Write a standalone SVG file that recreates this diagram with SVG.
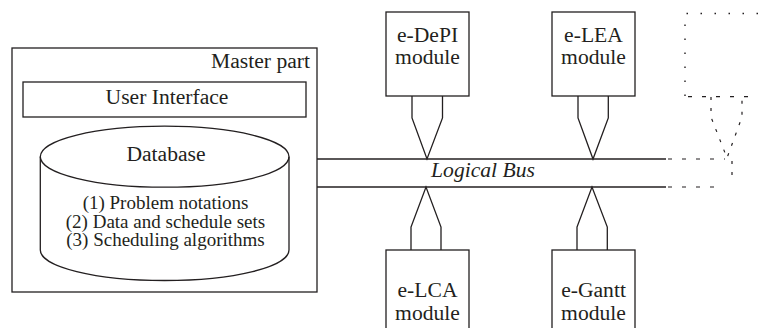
<svg xmlns="http://www.w3.org/2000/svg" width="761" height="328" viewBox="0 0 761 328">
<style>
.s{fill:none;stroke:#231f20;stroke-width:1.3}
.b{fill:#fff;stroke:#231f20;stroke-width:1.3}
.t{font-family:"Liberation Serif","Times New Roman",serif;font-size:21.6px;fill:#231f20;text-anchor:middle}
.sm{font-size:19px}
.d{fill:none;stroke:#231f20;stroke-width:1.2;stroke-dasharray:4 10}
.dot{fill:none;stroke:#231f20;stroke-width:1.4;stroke-dasharray:1.5 12.5}
</style>
<rect width="761" height="328" fill="#fff"/>
<g id="master">
<rect class="b" x="12" y="48" width="305" height="244"/>
<text class="t" x="310" y="68" style="text-anchor:end">Master part</text>
</g>
<g id="ui">
<rect class="b" x="23" y="82" width="283" height="35"/>
<text class="t" x="167" y="104">User Interface</text>
</g>
<g id="database">
<path class="b" d="M40.3,156.7 A124.3,30.5 0 0 1 289,156.7 V250 A124.3,30.5 0 0 1 40.3,250 Z"/>
<path class="s" d="M40.3,156.7 A124.3,30.5 0 0 0 289,156.7"/>
<text class="t" x="166" y="161">Database</text>
<text class="t sm" x="165.5" y="209">(1) Problem notations</text>
<text class="t sm" x="165.5" y="227.5">(2) Data and schedule sets</text>
<text class="t sm" x="165.5" y="246">(3) Scheduling algorithms</text>
</g>
<g id="bus">
<line class="s" x1="317" y1="159" x2="666" y2="159"/>
<line class="s" x1="317" y1="187" x2="666" y2="187"/>
<line class="d" x1="668" y1="159" x2="725" y2="159"/>
<line class="d" x1="668" y1="187" x2="723" y2="187"/>
<text class="t" x="483" y="177" style="font-style:italic">Logical Bus</text>
</g>
<g id="e-depi">
<rect class="b" x="386" y="12" width="83" height="84"/>
<text class="t" x="427.5" y="42">e-DePI</text>
<text class="t" x="427.5" y="64">module</text>
</g>
<g id="e-lea">
<rect class="b" x="552" y="12" width="83" height="84"/>
<text class="t" x="593.5" y="42">e-LEA</text>
<text class="t" x="593.5" y="64">module</text>
</g>
<g id="e-lca">
<rect class="b" x="386" y="250" width="83" height="90"/>
<text class="t" x="427.5" y="297">e-LCA</text>
<text class="t" x="427.5" y="320">module</text>
</g>
<g id="e-gantt">
<rect class="b" x="552" y="250" width="83" height="90"/>
<text class="t" x="593.5" y="297">e-Gantt</text>
<text class="t" x="593.5" y="320">module</text>
</g>
<g id="partial-module">
<path class="dot" d="M685,96 V13.5 H761"/>
<line class="d" x1="688" y1="96.7" x2="752" y2="96.7"/>
</g>
<g id="connectors">
<path class="s" d="M412,96 V118 L427,159 L442.5,118 V96"/>
<path class="s" d="M578,96 V118 L593,159 L608.3,118 V96"/>
<path class="s" d="M411,250 V227 L426,187 L441,227 V250"/>
<path class="s" d="M577,250 V227 L592,187 L607.3,227 V250"/>
<path class="d" d="M711,97 V117 L727,158 L742,117 V97" style="stroke-dasharray:3 8"/>
<line class="d" x1="732" y1="161" x2="732" y2="176" style="stroke-dasharray:3 8"/>
</g>
</svg>
